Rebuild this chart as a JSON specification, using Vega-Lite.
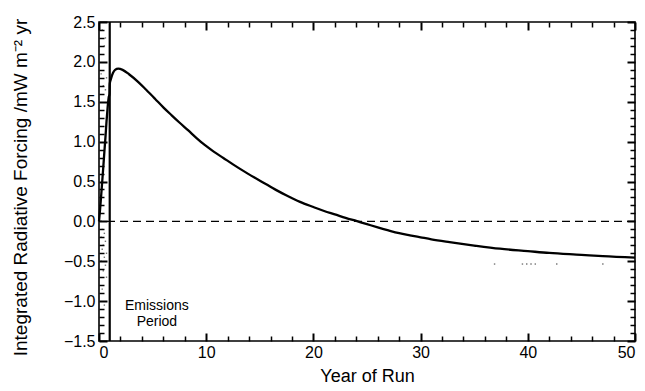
{
  "$schema": "https://vega.github.io/schema/vega-lite/v6.json",
  "width": 536,
  "height": 319,
  "autosize": "none",
  "padding": {"left": 99, "top": 22, "right": 10, "bottom": 50},
  "background": "white",
  "config": {
    "view": {"stroke": "black", "strokeWidth": 1.6},
    "font": "Liberation Sans",
    "axis": {
      "grid": false,
      "domain": false,
      "labelColor": "black",
      "titleColor": "black",
      "labelFont": "Liberation Sans",
      "titleFont": "Liberation Sans",
      "labelFontSize": 16,
      "titleFontSize": 18,
      "titleFontWeight": "normal"
    }
  },
  "datasets": {
    "curve": [
      {"year": 0, "rf": 0},
      {"year": 0.1, "rf": 0.15},
      {"year": 0.2, "rf": 0.32},
      {"year": 0.3, "rf": 0.5},
      {"year": 0.4, "rf": 0.68},
      {"year": 0.5, "rf": 0.87},
      {"year": 0.6, "rf": 1.05},
      {"year": 0.7, "rf": 1.25},
      {"year": 0.8, "rf": 1.42},
      {"year": 0.9, "rf": 1.55},
      {"year": 0.98, "rf": 1.6},
      {"year": 1.0, "rf": 1.72},
      {"year": 1.1, "rf": 1.78},
      {"year": 1.3, "rf": 1.86},
      {"year": 1.5, "rf": 1.9},
      {"year": 1.8, "rf": 1.915},
      {"year": 2.2, "rf": 1.9},
      {"year": 2.8, "rf": 1.845},
      {"year": 3.67, "rf": 1.747},
      {"year": 4.4, "rf": 1.65},
      {"year": 5.22, "rf": 1.538},
      {"year": 6.0, "rf": 1.43},
      {"year": 6.78, "rf": 1.33},
      {"year": 7.5, "rf": 1.24},
      {"year": 8.33, "rf": 1.14},
      {"year": 9.1, "rf": 1.045},
      {"year": 9.89, "rf": 0.955},
      {"year": 10.7, "rf": 0.875},
      {"year": 11.6, "rf": 0.795},
      {"year": 12.5, "rf": 0.715},
      {"year": 13.5, "rf": 0.63},
      {"year": 14.5, "rf": 0.55},
      {"year": 15.6, "rf": 0.465},
      {"year": 16.5, "rf": 0.395},
      {"year": 17.5, "rf": 0.325},
      {"year": 18.75, "rf": 0.245},
      {"year": 20.0, "rf": 0.18},
      {"year": 21.0, "rf": 0.13},
      {"year": 22.0, "rf": 0.088},
      {"year": 23.0, "rf": 0.045},
      {"year": 24.0, "rf": 0.005},
      {"year": 25.0, "rf": -0.035},
      {"year": 26.0, "rf": -0.075},
      {"year": 27.0, "rf": -0.113},
      {"year": 28.0, "rf": -0.148},
      {"year": 29.0, "rf": -0.175},
      {"year": 30.0, "rf": -0.2},
      {"year": 31.0, "rf": -0.225},
      {"year": 32.7, "rf": -0.26},
      {"year": 35.0, "rf": -0.303},
      {"year": 37.4, "rf": -0.343},
      {"year": 40.0, "rf": -0.373},
      {"year": 42.0, "rf": -0.396},
      {"year": 45.0, "rf": -0.42},
      {"year": 47.0, "rf": -0.437},
      {"year": 50.0, "rf": -0.455}
    ],
    "anchor": [{"year": 0, "rf": 0}],
    "labels": [
      {"year": 5.4, "rf": -1.06, "text": "Emissions"},
      {"year": 5.4, "rf": -1.265, "text": "Period"}
    ],
    "specks": [
      {"year": 0.3, "rf": 2.4}, {"year": 0.6, "rf": 2.3}, {"year": 0.5, "rf": 2.2},
      {"year": 0.2, "rf": 1.85}, {"year": 0.7, "rf": 1.8}, {"year": 0.4, "rf": 1.7},
      {"year": 0.6, "rf": 1.65}, {"year": 0.3, "rf": -0.1}, {"year": 0.5, "rf": -0.15},
      {"year": 0.2, "rf": -0.2}, {"year": 0.6, "rf": -0.25}, {"year": 0.4, "rf": -0.3},
      {"year": 0.3, "rf": -0.35}, {"year": 0.7, "rf": -0.4}, {"year": 0.5, "rf": -0.45},
      {"year": 0.2, "rf": -0.5}, {"year": 0.6, "rf": -0.55}, {"year": 0.4, "rf": -0.62},
      {"year": 0.7, "rf": -0.7}, {"year": 0.3, "rf": -0.85}, {"year": 0.5, "rf": -1.05},
      {"year": 36.9, "rf": -0.535}, {"year": 39.5, "rf": -0.535}, {"year": 39.9, "rf": -0.535},
      {"year": 40.3, "rf": -0.535}, {"year": 40.7, "rf": -0.535}, {"year": 42.7, "rf": -0.535},
      {"year": 47.0, "rf": -0.535}
    ]
  },
  "resolve": {"axis": {"x": "independent", "y": "independent"}},
  "layer": [
    {
      "data": {"name": "curve"},
      "mark": {"type": "line", "color": "black", "strokeWidth": 2.3, "interpolate": "monotone"},
      "encoding": {
        "x": {
          "field": "year", "type": "quantitative",
          "scale": {"domain": [0, 50], "nice": false, "zero": false},
          "axis": {
            "orient": "bottom", "values": [0, 10, 20, 30, 40, 50], "format": "d", "zindex": 2,
            "tickSize": -8, "tickColor": "#000000", "tickWidth": 2, "labelPadding": 11, "title": "Year of Run",
            "titleY": 35, "titleBaseline": "middle"
          }
        },
        "y": {
          "field": "rf", "type": "quantitative",
          "scale": {"domain": [-1.5, 2.5], "nice": false, "zero": false},
          "axis": {
            "orient": "left", "values": [-1.5, -1, -0.5, 0, 0.5, 1, 1.5, 2, 2.5], "format": ".1f", "zindex": 2,
            "tickSize": -8, "tickColor": "#000000", "tickWidth": 2, "labelPadding": 12,
            "title": "Integrated Radiative Forcing  /mW m⁻² yr",
            "titleFontSize": 19,
            "titleX": -79, "titleY": 165, "titleAngle": -90, "titleBaseline": "middle", "titleAlign": "center"
          }
        }
      }
    },
    {
      "data": {"name": "anchor"},
      "mark": {"type": "point", "opacity": 0},
      "encoding": {
        "x": {
          "field": "year", "type": "quantitative", "scale": {"domain": [0, 50], "nice": false, "zero": false},
          "axis": {"orient": "top", "values": [0, 10, 20, 30, 40, 50], "labels": false, "zindex": 2, "tickSize": -8, "tickColor": "#000000", "tickWidth": 2, "title": null}
        },
        "y": {
          "field": "rf", "type": "quantitative", "scale": {"domain": [-1.5, 2.5], "nice": false, "zero": false},
          "axis": {"orient": "right", "values": [-1.5, -1, -0.5, 0, 0.5, 1, 1.5, 2, 2.5], "labels": false, "zindex": 2, "tickSize": -8, "tickColor": "#000000", "tickWidth": 2, "title": null}
        }
      }
    },
    {
      "data": {"name": "anchor"},
      "mark": {"type": "point", "opacity": 0},
      "encoding": {
        "x": {
          "field": "year", "type": "quantitative", "scale": {"domain": [0, 50], "nice": false, "zero": false},
          "axis": {"orient": "bottom", "values": [2, 4, 6, 8, 12, 14, 16, 18, 22, 24, 26, 28, 32, 34, 36, 38, 42, 44, 46, 48], "labels": false, "zindex": 2, "tickSize": -5, "tickColor": "#000000", "tickWidth": 1.5, "title": null}
        },
        "y": {
          "field": "rf", "type": "quantitative", "scale": {"domain": [-1.5, 2.5], "nice": false, "zero": false},
          "axis": {"orient": "right", "values": [-1.4, -1.3, -1.2, -1.1, -0.9, -0.8, -0.7, -0.6, -0.4, -0.3, -0.2, -0.1, 0.1, 0.2, 0.3, 0.4, 0.6, 0.7, 0.8, 0.9, 1.1, 1.2, 1.3, 1.4, 1.6, 1.7, 1.8, 1.9, 2.1, 2.2, 2.3, 2.4], "labels": false, "zindex": 2, "tickSize": -5, "tickColor": "#000000", "tickWidth": 1.5, "title": null}
        }
      }
    },
    {
      "data": {"name": "anchor"},
      "mark": {"type": "point", "opacity": 0},
      "encoding": {
        "x": {
          "field": "year", "type": "quantitative", "scale": {"domain": [0, 50], "nice": false, "zero": false},
          "axis": {"orient": "top", "values": [2, 4, 6, 8, 12, 14, 16, 18, 22, 24, 26, 28, 32, 34, 36, 38, 42, 44, 46, 48], "labels": false, "zindex": 2, "tickSize": -5, "tickColor": "#000000", "tickWidth": 1.5, "title": null}
        },
        "y": {
          "field": "rf", "type": "quantitative", "scale": {"domain": [-1.5, 2.5], "nice": false, "zero": false},
          "axis": {"orient": "left", "values": [-1.4, -1.3, -1.2, -1.1, -0.9, -0.8, -0.7, -0.6, -0.4, -0.3, -0.2, -0.1, 0.1, 0.2, 0.3, 0.4, 0.6, 0.7, 0.8, 0.9, 1.1, 1.2, 1.3, 1.4, 1.6, 1.7, 1.8, 1.9, 2.1, 2.2, 2.3, 2.4], "labels": false, "zindex": 2, "tickSize": -5, "tickColor": "#000000", "tickWidth": 1.5, "title": null}
        }
      }
    },
    {
      "data": {"name": "anchor"},
      "mark": {"type": "rule", "color": "black", "strokeWidth": 1.4, "strokeDash": [8, 5]},
      "encoding": {
        "y": {"datum": 0, "type": "quantitative", "scale": {"domain": [-1.5, 2.5], "nice": false, "zero": false}, "axis": null}
      }
    },
    {
      "data": {"name": "anchor"},
      "mark": {"type": "rule", "color": "black", "strokeWidth": 2.2},
      "encoding": {
        "x": {"datum": 1, "type": "quantitative", "scale": {"domain": [0, 50], "nice": false, "zero": false}, "axis": null}
      }
    },
    {
      "data": {"name": "specks"},
      "mark": {"type": "square", "size": 2, "color": "#666666", "opacity": 0.9},
      "encoding": {
        "x": {"field": "year", "type": "quantitative", "scale": {"domain": [0, 50], "nice": false, "zero": false}, "axis": null},
        "y": {"field": "rf", "type": "quantitative", "scale": {"domain": [-1.5, 2.5], "nice": false, "zero": false}, "axis": null}
      }
    },
    {
      "data": {"name": "labels"},
      "mark": {"type": "text", "fontSize": 14, "font": "Liberation Sans", "color": "black", "baseline": "middle", "align": "center"},
      "encoding": {
        "x": {"field": "year", "type": "quantitative", "scale": {"domain": [0, 50], "nice": false, "zero": false}, "axis": null},
        "y": {"field": "rf", "type": "quantitative", "scale": {"domain": [-1.5, 2.5], "nice": false, "zero": false}, "axis": null},
        "text": {"field": "text"}
      }
    }
  ]
}
